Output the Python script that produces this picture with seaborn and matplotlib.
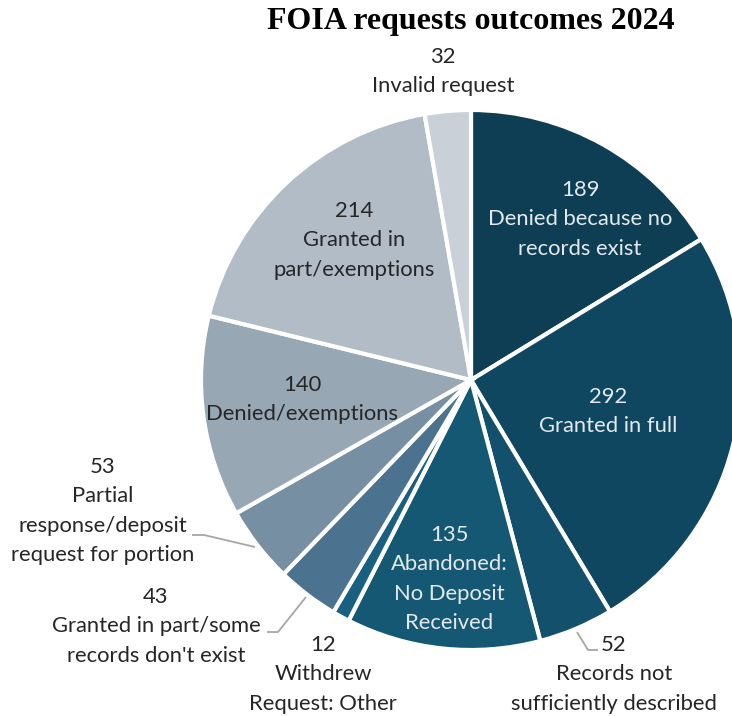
import matplotlib.pyplot as plt
import seaborn as sns

# --- Data (clockwise from 12 o'clock) ---
outcomes = [
    "Denied because no\nrecords exist",
    "Granted in full",
    "Records not\nsufficiently described",
    "Abandoned:\nNo Deposit\nReceived",
    "Withdrew\nRequest: Other",
    "Granted in part/some\nrecords don't exist",
    "Partial\nresponse/deposit\nrequest for portion",
    "Denied/exemptions",
    "Granted in\npart/exemptions",
    "Invalid request",
]
counts = [189, 292, 52, 135, 12, 43, 53, 140, 214, 32]
slice_colors = ["#0d3e53", "#0f4760", "#12506b", "#145874", "#195f80",
                "#4b728e", "#778fa3", "#97a7b4", "#b1bcc7", "#c9d0d8"]

# --- Style ---
sns.set_theme(style="white")
plt.rcParams['font.family'] = ['Lato', 'DejaVu Sans']

W, H = 732, 716
fig = plt.figure(figsize=(W / 100, H / 100), dpi=100)
ax = fig.add_axes([0, 0, 1, 1])

cx, cy, r = 471, 380, 270
ax.pie(counts, colors=slice_colors, startangle=90, counterclock=False,
       center=(cx, H - cy), radius=r, frame=True,
       wedgeprops=dict(edgecolor="white", linewidth=3))
ax.set_xlim(0, W)
ax.set_ylim(0, H)
ax.set_aspect("equal")
ax.axis("off")

# label layout in pixel coords (x centre, y of first line), text colour
DARK, LIGHT = "#262626", "#e3e9ee"
label_pos = [
    (580, 190, LIGHT),
    (608, 397, LIGHT),
    (614, 645, DARK),
    (449, 535, LIGHT),
    (323, 645, DARK),
    (156, 597, DARK),
    (103, 467, DARK),
    (302, 385, DARK),
    (354, 211, DARK),
    (443, 57, DARK),
]
LINE = 29.3
for name, n, (x, y, c) in zip(outcomes, counts, label_pos):
    lines = [str(n)] + name.split("\n")
    for i, t in enumerate(lines):
        ax.text(x, H - (y + i * LINE), t, ha="center", va="center",
                fontsize=15.8, color=c)

# leader lines
leaders = [
    [(577, 632), (588, 650), (598, 650)],
    [(306, 597), (278, 632), (267, 632)],
    [(255, 547), (204, 535), (192, 535)],
]
for pts in leaders:
    ax.plot([p[0] for p in pts], [H - p[1] for p in pts],
            color="#a6a6a6", lw=1.3, solid_capstyle="butt")

ax.text(cx, H - 22, "FOIA requests outcomes 2024", ha="center", va="center",
        fontsize=23, fontweight="bold", family=["Liberation Serif"],
        color="black")

fig.savefig("out.png", dpi=100)
